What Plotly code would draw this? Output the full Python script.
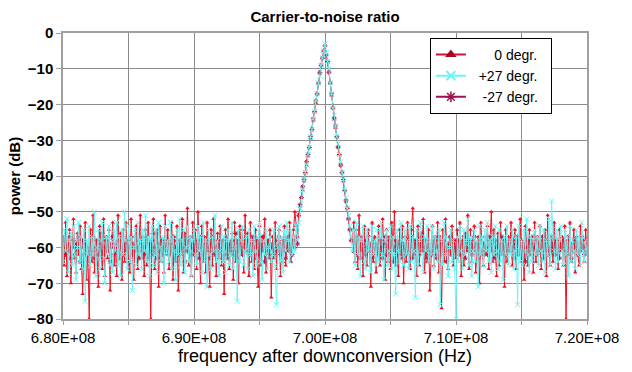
import numpy as np
import plotly.graph_objects as go

# frequency grid (Hz): 680 MHz .. 720 MHz, 0.1 MHz steps
f_start, f_step, n_pts = 6.80e8, 1.0e5, 401
freq = f_start + np.arange(n_pts) * f_step

# ---- 0 degr. ----
red_left = [
    -57,-65,-53,-68,-60,-55,-70,-58,-52,-63,-67,-56,-62,-54,-66,-73,-59,-53,-69,-61,
    -80,-55,-64,-51,-67,-58,-62,-71,-54,-61,-66,-52,-68,-57,-63,-55,-72,-59,-53,-65,
    -60,-68,-51,-62,-56,-69,-55,-64,-53,-63,-58,-67,-52,-61,-69,-57,-54,-66,-60,-51,
    -63,-57,-68,-55,-65,-53,-61,-80,-56,-52,-66,-60,-55,-71,-54,-64,-58,-67,-51,-62,
    -55,-66,-59,-53,-69,-57,-64,-54,-72,-58,-62,-52,-67,-56,-61,-49,-65,-57,-68,-53,
    -62,-55,-66,-50,-59,-70,-54,-64,-57,-67,-53,-61,-71,-55,-65,-52,-58,-68,-56,-63,
    -54,-65,-58,-73,-55,-62,-52,-66,-60,-56,-69,-53,-64,-58,-70,-54,-62,-55,-67,-51,
    -61,-56,-68,-53,-64,-58,-66,-55,-62,-71,-54,-65,-57,-61,-52,-67,-58,-63,-55,-74,
    -57,-63,-53,-66,-60,-55,-68,-58,-64,-54,-65,-57,-61,-53,-64,-58,-55,-50,-54,-57]
red_peak = [-51,-48.5,-46,-44,-41.5,-39,-37,-34.5,-32,-29.5,-27,-24.5,-22,-19.5,-17,-14,-11.5,-9,-7,-5,-3.5,
            -6,-8,-10.5,-14,-17.5,-21,-23.5,-26.5,-29,-31.5,-34,-36.5,-39,-41.5,-44,-46.5,-49,-52,-55,-58]
red_right = [
    -58,-53,-64,-55,-66,-51,-61,-57,-68,-54,-62,-65,-55,-59,-71,-53,-64,-57,-67,-60,
    -54,-65,-58,-52,-62,-69,-55,-64,-57,-66,-53,-61,-50,-65,-58,-68,-55,-62,-54,-70,
    -57,-64,-53,-61,-66,-55,-49,-62,-58,-68,-54,-65,-57,-61,-52,-67,-58,-64,-55,-72,
    -61,-54,-65,-57,-62,-53,-67,-58,-77,-55,-64,-52,-61,-66,-57,-62,-54,-65,-58,-63,
    -55,-62,-53,-68,-58,-65,-56,-61,-51,-66,-55,-64,-58,-54,-67,-62,-57,-70,-53,-61,
    -65,-57,-62,-54,-66,-58,-50,-64,-55,-61,-68,-56,-65,-53,-62,-58,-71,-55,-64,-57,
    -61,-53,-65,-58,-55,-66,-57,-62,-52,-64,-60,-69,-54,-58,-65,-55,-62,-57,-67,-53,
    -64,-57,-61,-54,-66,-58,-62,-55,-68,-51,-61,-65,-57,-64,-53,-62,-58,-66,-55,-61,
    -57,-65,-54,-80,-58,-62,-53,-64,-60,-55,-67,-57,-62,-65,-54,-61,-58,-64,-55,-62]

# ---- +27 degr. ----
cyan_left = [
    -64,-55,-61,-52,-67,-58,-56,-65,-54,-62,-69,-60,-53,-64,-57,-66,-55,-75,-58,-62,
    -54,-65,-57,-62,-50,-68,-60,-55,-66,-58,-53,-63,-70,-57,-62,-54,-65,-58,-67,-55,
    -61,-53,-65,-57,-68,-55,-62,-50,-58,-66,-54,-64,-57,-72,-60,-55,-65,-53,-62,-58,
    -66,-55,-61,-51,-64,-57,-68,-58,-54,-65,-62,-55,-67,-53,-60,-64,-57,-70,-54,-62,
    -58,-64,-53,-66,-57,-61,-69,-55,-62,-52,-65,-58,-55,-67,-60,-54,-64,-57,-68,-58,
    -55,-62,-65,-54,-61,-57,-67,-53,-64,-58,-71,-55,-62,-66,-57,-61,-51,-64,-58,-68,
    -61,-54,-64,-57,-67,-58,-55,-65,-62,-53,-66,-60,-57,-75,-55,-64,-58,-54,-65,-61,
    -57,-66,-55,-62,-58,-68,-54,-61,-65,-57,-53,-64,-69,-58,-62,-55,-66,-60,-57,-64,
    -62,-55,-65,-76,-60,-54,-64,-57,-67,-55,-61,-53,-58,-64,-55,-62,-57,-61,-54,-58]
cyan_peak = [-53,-49,-47,-44,-41,-39,-37,-34,-32,-29,-27,-24,-22,-19,-17,-14,-12,-9,-7,-5,-3,
             -5.5,-8,-10,-14,-17,-21,-23,-26,-29,-31,-34,-36,-39,-41,-44,-46,-49,-51,-54,-57]
cyan_right = [
    -61,-55,-65,-53,-62,-57,-68,-58,-54,-64,-66,-55,-61,-57,-67,-54,-62,-58,-65,-55,
    -64,-57,-53,-62,-69,-58,-55,-65,-61,-54,-66,-57,-62,-73,-55,-61,-64,-53,-58,-65,
    -55,-62,-58,-66,-54,-64,-57,-61,-74,-55,-65,-58,-53,-62,-67,-57,-61,-54,-64,-58,
    -62,-54,-66,-57,-61,-64,-55,-76,-58,-65,-53,-62,-57,-68,-60,-55,-64,-58,-66,-80,
    -57,-64,-54,-61,-66,-55,-62,-58,-52,-65,-57,-68,-61,-55,-64,-58,-71,-54,-62,-57,
    -65,-55,-61,-53,-64,-58,-67,-57,-62,-54,-61,-66,-55,-64,-58,-69,-57,-62,-54,-65,
    -58,-62,-55,-66,-61,-57,-76,-54,-64,-58,-65,-55,-61,-52,-62,-67,-57,-64,-58,-55,
    -62,-57,-65,-54,-61,-64,-55,-67,-58,-62,-52,-65,-47,-57,-61,-66,-55,-64,-58,-54,
    -61,-65,-55,-62,-57,-68,-54,-64,-58,-61,-66,-55,-62,-57,-65,-53,-61,-64,-58,-62]

# ---- -27 degr. ----
purple_left = [
    -60,-58,-62,-59,-61,-57,-63,-60,-58,-62,-59,-61,-57,-64,-60,-58,-62,-59,-61,-60,
    -62,-59,-61,-57,-63,-60,-58,-62,-59,-61,-56,-63,-60,-58,-61,-59,-64,-60,-57,-62,
    -59,-61,-58,-63,-60,-57,-62,-59,-61,-58,-64,-60,-57,-62,-59,-61,-58,-60,-63,-59,
    -61,-58,-62,-60,-57,-63,-59,-61,-58,-62,-60,-56,-63,-59,-61,-58,-62,-60,-59,-61,
    -58,-62,-59,-61,-57,-63,-60,-58,-62,-59,-61,-60,-57,-64,-59,-61,-58,-62,-60,-59,
    -62,-59,-61,-58,-63,-60,-57,-62,-59,-61,-58,-60,-63,-59,-61,-57,-62,-60,-58,-61,
    -59,-61,-58,-62,-60,-57,-63,-59,-61,-58,-62,-60,-56,-63,-59,-61,-58,-62,-60,-59,
    -61,-58,-62,-59,-61,-57,-63,-60,-58,-62,-59,-61,-60,-57,-64,-59,-61,-58,-62,-60,
    -59,-62,-58,-61,-60,-57,-62,-59,-61,-58,-63,-60,-57,-61,-59,-62,-58,-60,-57,-59]
purple_peak = [-51,-48,-46,-43,-41,-39,-36,-34,-32,-29,-27,-24,-22,-19,-17,-14,-11,-9,-7,-5,-3.5,
               -6,-8,-11,-14,-17,-21,-24,-26,-29,-32,-34,-37,-39,-41,-44,-47,-49,-52,-55,-58]
purple_right = [
    -58,-61,-59,-62,-57,-60,-63,-59,-61,-58,-62,-60,-57,-61,-59,-63,-58,-60,-62,-59,
    -61,-58,-60,-63,-59,-57,-62,-60,-58,-61,-59,-64,-60,-58,-62,-59,-61,-57,-63,-60,
    -59,-62,-58,-61,-60,-57,-63,-59,-61,-58,-60,-62,-59,-56,-61,-60,-63,-58,-60,-61,
    -62,-59,-61,-58,-63,-60,-57,-61,-59,-62,-58,-60,-64,-59,-61,-57,-62,-60,-58,-61,
    -60,-58,-62,-59,-61,-57,-63,-60,-58,-61,-59,-62,-60,-57,-61,-59,-63,-58,-60,-62,
    -59,-61,-58,-62,-60,-57,-61,-59,-63,-58,-60,-62,-59,-61,-57,-60,-62,-58,-61,-59,
    -61,-58,-60,-63,-59,-61,-57,-62,-60,-58,-61,-59,-64,-60,-58,-62,-59,-61,-57,-60,
    -58,-62,-59,-61,-60,-57,-63,-59,-61,-58,-62,-60,-57,-61,-59,-62,-58,-60,-63,-59,
    -60,-58,-61,-59,-62,-57,-60,-63,-59,-61,-58,-60,-62,-59,-61,-57,-60,-62,-58,-61]

red_db = red_left + red_peak + red_right
cyan_db = cyan_left + cyan_peak + cyan_right
purple_db = purple_left + purple_peak + purple_right

series_names = ["\u2007\u2007\u20070 degr.\u2007", "\u2007+27 degr.\u2007", "\u2007\u2008-27 degr.\u2007"]
x_tick_vals = [6.80e8, 6.85e8, 6.90e8, 6.95e8, 7.00e8, 7.05e8, 7.10e8, 7.15e8, 7.20e8]
x_tick_text = ["6.80E+08", "", "6.90E+08", "", "7.00E+08", "", "7.10E+08", "", "7.20E+08"]

RED = "#EE1022"
CYAN = "#6CF4F4"
PURPLE = "#99205F"
FONT = "Liberation Sans, Arial, sans-serif"

fig = go.Figure()
# draw order: purple (bottom), red, cyan
fig.add_trace(go.Scatter(x=freq, y=purple_db, mode="lines+markers", showlegend=False,
                         line=dict(color=PURPLE, width=0.8),
                         marker=dict(symbol="asterisk-open", size=4, color=PURPLE,
                                     line=dict(color=PURPLE, width=1))))
fig.add_trace(go.Scatter(x=freq, y=red_db, mode="lines+markers", showlegend=False,
                         line=dict(color=RED, width=1),
                         marker=dict(symbol="triangle-up", size=4, color=RED)))
fig.add_trace(go.Scatter(x=freq, y=cyan_db, mode="lines+markers", showlegend=False,
                         line=dict(color=CYAN, width=1),
                         marker=dict(symbol="x-thin", size=5, color=CYAN,
                                     line=dict(color=CYAN, width=1))))

# legend entries
fig.add_trace(go.Scatter(x=[None], y=[None], mode="lines+markers", name=series_names[0],
                         line=dict(color="#D0103A", width=2),
                         marker=dict(symbol="triangle-up", size=10, color="#B00020")))
fig.add_trace(go.Scatter(x=[None], y=[None], mode="lines+markers", name=series_names[1],
                         line=dict(color=CYAN, width=2),
                         marker=dict(symbol="x-thin", size=9, color=CYAN,
                                     line=dict(color=CYAN, width=2))))
fig.add_trace(go.Scatter(x=[None], y=[None], mode="lines+markers", name=series_names[2],
                         line=dict(color="#A01050", width=2),
                         marker=dict(symbol="asterisk-open", size=9, color="#A01050",
                                     line=dict(color="#A01050", width=1.5))))

fig.update_layout(
    width=632, height=372,
    margin=dict(l=63, r=45, t=33, b=45),
    paper_bgcolor="white", plot_bgcolor="white",
    font=dict(family=FONT, color="black"),
    title=dict(text="<b>Carrier-to-noise ratio</b>", x=0.5, xref="paper", xanchor="center",
               y=1 - 17 / 372, yref="container", yanchor="middle",
               font=dict(size=15, family=FONT, color="black")),
    showlegend=True,
    legend=dict(x=0.933, xanchor="right", y=0.983, yanchor="top",
                bgcolor="white", bordercolor="black", borderwidth=1,
                font=dict(size=14, family=FONT, color="black"),
                tracegroupgap=0, itemwidth=30),
)
fig.update_xaxes(range=[6.80e8, 7.20e8], tickvals=x_tick_vals, ticktext=x_tick_text,
                 showgrid=True, gridcolor="#8c8c8c", gridwidth=1,
                 showline=True, mirror=True, linecolor="#a0a0a0", linewidth=1.5,
                 ticks="outside", ticklen=4, tickcolor="#a0a0a0",
                 tickfont=dict(size=15, family=FONT, color="black"),
                 title=dict(text="frequency after downconversion (Hz)", standoff=2,
                            font=dict(size=18, family=FONT, color="black")),
                 zeroline=False)
fig.update_yaxes(range=[-80, 0], dtick=10,
                 showgrid=True, gridcolor="#8c8c8c", gridwidth=1,
                 showline=True, mirror=True, linecolor="#a0a0a0", linewidth=1.5,
                 ticks="outside", ticklen=5, tickcolor="#a0a0a0",
                 tickfont=dict(size=15, family=FONT, color="black", weight="bold"),
                 title=dict(text="<b>power (dB)</b>", standoff=4,
                            font=dict(size=15, family=FONT, color="black")),
                 zeroline=False)

fig.write_html("out.html")
